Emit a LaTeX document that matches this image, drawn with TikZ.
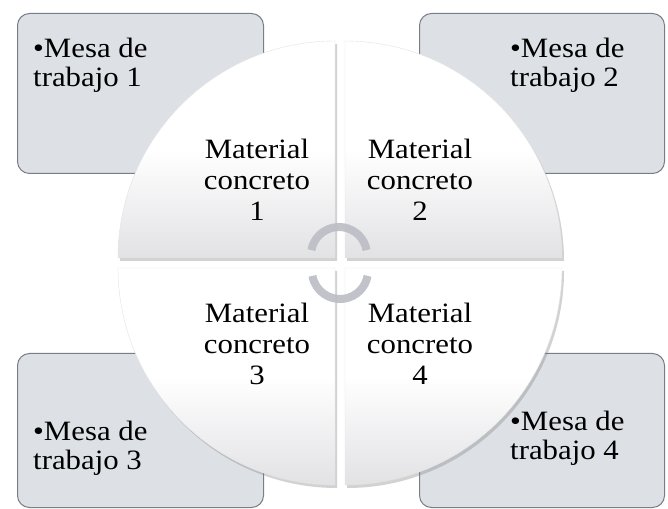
\documentclass[tikz,border=0pt]{standalone}
\usepackage{fontspec}
\setmainfont{Liberation Serif}[FakeStretch=1.1]
\usetikzlibrary{shadows}
\definecolor{boxfill}{RGB}{221,225,230}
\definecolor{boxline}{RGB}{120,126,135}
\definecolor{arcc}{RGB}{188,188,198}
\definecolor{quadbot}{RGB}{226,226,229}
\begin{document}
\begin{tikzpicture}[x=1pt,y=1pt,
  mesa/.style={draw=boxline, line width=1pt, fill=boxfill, rounded corners=12pt, inner sep=0pt},
  quad/.style={top color=white, bottom color=quadbot, middle color=white, draw=gray!22, line width=0.4pt,
    drop shadow={opacity=0.35, shadow xshift=2pt, shadow yshift=-3pt}},
  qtext/.style={align=center, font=\fontsize{28}{31}\selectfont, inner sep=0pt},
  mtext/.style={align=left, font=\fontsize{28}{29}\selectfont, inner sep=0pt, anchor=north west},
  cyc/.style={draw=arcc, line width=8pt, opacity=0.9}]
\useasboundingbox (0,0) rectangle (668,508);
\fill[white] (0,0) rectangle (668,508);
% corner boxes
\node[mesa, anchor=north west, minimum width=246pt, minimum height=160pt] (m1) at (17,495) {};
\node[mesa, anchor=north west, minimum width=245pt, minimum height=160pt] (m2) at (419,495) {};
\node[mesa, anchor=north west, minimum width=246pt, minimum height=154pt] (m3) at (17,155) {};
\node[mesa, anchor=north west, minimum width=245pt, minimum height=154pt] (m4) at (419,155) {};
\node[mtext] (t1) at (33,470) {\textbullet Mesa de\\trabajo 1};
\node[mtext] (t2) at (510,470) {\textbullet Mesa de\\trabajo 2};
\node[mtext] (t3) at (33,87) {\textbullet Mesa de\\trabajo 3};
\node[mtext] (t4) at (510,97) {\textbullet Mesa de\\trabajo 4};
% pie quadrants
\path[quad] (335,250) -- ++(-217,0) arc[start angle=180, end angle=90, radius=217] -- cycle;
\path[quad] (345,250) -- ++(0,217) arc[start angle=90, end angle=0, radius=217] -- cycle;
\path[quad] (335,240) -- ++(0,-217) arc[start angle=270, end angle=180, radius=217] -- cycle;
\path[quad] (345,240) -- ++(217,0) arc[start angle=0, end angle=-90, radius=217] -- cycle;
\node[qtext] (q1) at (257,328) {Material\\concreto\\1};
\node[qtext] (q2) at (420,328) {Material\\concreto\\2};
\node[qtext] (q3) at (257,164) {Material\\concreto\\3};
\node[qtext] (q4) at (420,164) {Material\\concreto\\4};
% central cycle arcs
\coordinate (ctop) at (339,253);
\coordinate (cbot) at (340,237);
\draw[cyc] (ctop) ++(170:28) arc[start angle=170, end angle=10, radius=28];
\draw[cyc] (cbot) ++(190:28) arc[start angle=190, end angle=350, radius=28];
\end{tikzpicture}
\end{document}
